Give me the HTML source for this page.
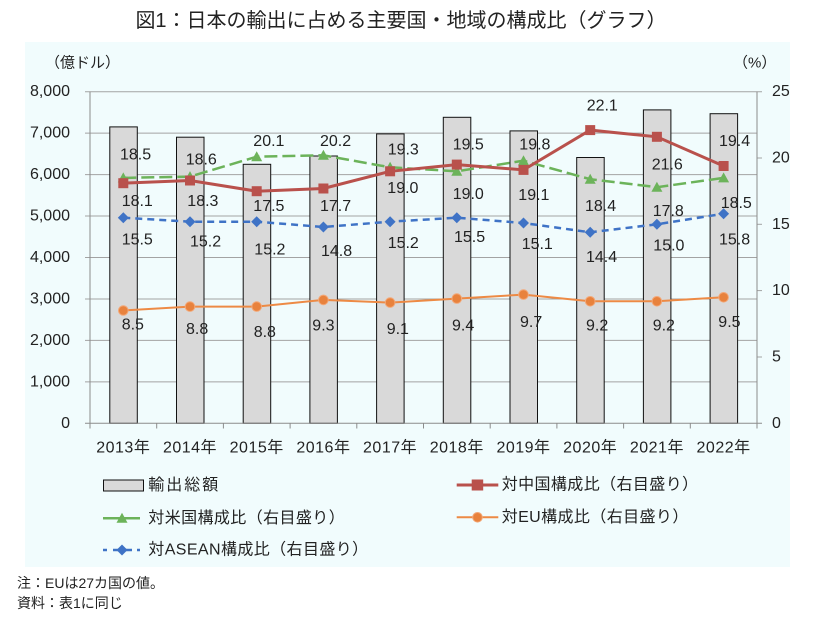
<!DOCTYPE html>
<html><head><meta charset="utf-8">
<style>
html,body{margin:0;padding:0;background:#fff;}
svg{display:block;}
text{font-family:"Liberation Sans","Noto Sans CJK JP",sans-serif;fill:#222;}
</style></head>
<body>
<svg width="830" height="624" viewBox="0 0 830 624" xmlns="http://www.w3.org/2000/svg">
<text x="401" y="21" font-size="20" text-anchor="middle" dominant-baseline="central" fill="#222">図1：日本の輸出に占める主要国・地域の構成比（グラフ）</text>
<rect x="25" y="42" width="765" height="525" fill="#f1fcfd"/>

<text x="45" y="63" font-size="15" dominant-baseline="central">（億ドル）</text>
<text x="733" y="63" font-size="15" dominant-baseline="central">（%）</text>

<!-- gridlines -->
<g stroke="#a3a3a3" stroke-width="1">
<line x1="85" y1="91.7" x2="762" y2="91.7"/>
<line x1="85" y1="133.15" x2="757" y2="133.15"/>
<line x1="85" y1="174.6" x2="757" y2="174.6"/>
<line x1="85" y1="216.05" x2="757" y2="216.05"/>
<line x1="85" y1="257.5" x2="757" y2="257.5"/>
<line x1="85" y1="298.95" x2="757" y2="298.95"/>
<line x1="85" y1="340.4" x2="757" y2="340.4"/>
<line x1="85" y1="381.85" x2="757" y2="381.85"/>
<line x1="757" y1="357" x2="762" y2="357"/>
<line x1="757" y1="290.6" x2="762" y2="290.6"/>
<line x1="757" y1="224.3" x2="762" y2="224.3"/>
<line x1="757" y1="158" x2="762" y2="158"/>
</g>

<!-- bars -->
<g fill="#d9d9d9" stroke="#111" stroke-width="1">
<rect x="109.8" y="126.9" width="27.5" height="296.4"/>
<rect x="176.5" y="137.2" width="27.5" height="286.1"/>
<rect x="243.2" y="164.3" width="27.5" height="259"/>
<rect x="309.9" y="156.0" width="27.5" height="267.3"/>
<rect x="376.6" y="133.9" width="27.5" height="289.4"/>
<rect x="443.3" y="117.3" width="27.5" height="306"/>
<rect x="510.0" y="130.9" width="27.5" height="292.4"/>
<rect x="576.7" y="157.5" width="27.5" height="265.8"/>
<rect x="643.4" y="109.9" width="27.5" height="313.4"/>
<rect x="710.1" y="113.7" width="27.5" height="309.6"/>
</g>

<!-- axes -->
<g stroke="#8c8c8c" stroke-width="1">
<line x1="90" y1="91.7" x2="90" y2="423.3"/>
<line x1="757" y1="91.7" x2="757" y2="423.3"/>
<line x1="85" y1="423.3" x2="762" y2="423.3"/>
<line x1="90" y1="423.3" x2="90" y2="428.5"/>
<line x1="156.7" y1="423.3" x2="156.7" y2="428.5"/>
<line x1="223.4" y1="423.3" x2="223.4" y2="428.5"/>
<line x1="290.1" y1="423.3" x2="290.1" y2="428.5"/>
<line x1="356.8" y1="423.3" x2="356.8" y2="428.5"/>
<line x1="423.5" y1="423.3" x2="423.5" y2="428.5"/>
<line x1="490.2" y1="423.3" x2="490.2" y2="428.5"/>
<line x1="556.9" y1="423.3" x2="556.9" y2="428.5"/>
<line x1="623.6" y1="423.3" x2="623.6" y2="428.5"/>
<line x1="690.3" y1="423.3" x2="690.3" y2="428.5"/>
<line x1="757" y1="423.3" x2="757" y2="428.5"/>
</g>

<!-- left axis labels -->
<g font-size="16" text-anchor="end" dominant-baseline="central">
<text x="70" y="91.7">8,000</text>
<text x="70" y="133.15">7,000</text>
<text x="70" y="174.6">6,000</text>
<text x="70" y="216.05">5,000</text>
<text x="70" y="257.5">4,000</text>
<text x="70" y="298.95">3,000</text>
<text x="70" y="340.4">2,000</text>
<text x="70" y="381.85">1,000</text>
<text x="70" y="423.3">0</text>
</g>
<!-- right axis labels -->
<g font-size="16" dominant-baseline="central">
<text x="772" y="91.7">25</text>
<text x="772" y="158">20</text>
<text x="772" y="224.3">15</text>
<text x="772" y="290.6">10</text>
<text x="772" y="357">5</text>
<text x="772" y="423.3">0</text>
</g>
<!-- category labels -->
<g font-size="16" text-anchor="middle" dominant-baseline="central" letter-spacing="0.5">
<text x="123.3" y="448">2013年</text>
<text x="190" y="448">2014年</text>
<text x="256.7" y="448">2015年</text>
<text x="323.4" y="448">2016年</text>
<text x="390.1" y="448">2017年</text>
<text x="456.8" y="448">2018年</text>
<text x="523.5" y="448">2019年</text>
<text x="590.2" y="448">2020年</text>
<text x="656.9" y="448">2021年</text>
<text x="723.6" y="448">2022年</text>
</g>

<!-- EU line -->
<polyline fill="none" stroke="#ed8a45" stroke-width="2" points="123.3,310.5 190,306.6 256.7,306.6 323.4,299.9 390.1,302.6 456.8,298.6 523.5,294.6 590.2,301.3 656.9,301.3 723.6,297.3"/>
<g fill="#e8823d" stroke="#f3a878" stroke-width="1">
<circle cx="123.3" cy="310.5" r="4.8"/><circle cx="190" cy="306.6" r="4.8"/><circle cx="256.7" cy="306.6" r="4.8"/><circle cx="323.4" cy="299.9" r="4.8"/><circle cx="390.1" cy="302.6" r="4.8"/><circle cx="456.8" cy="298.6" r="4.8"/><circle cx="523.5" cy="294.6" r="4.8"/><circle cx="590.2" cy="301.3" r="4.8"/><circle cx="656.9" cy="301.3" r="4.8"/><circle cx="723.6" cy="297.3" r="4.8"/>
</g>

<!-- ASEAN line -->
<polyline fill="none" stroke="#3f73c6" stroke-width="2.5" stroke-dasharray="7,5" points="123.3,217.7 190,221.7 256.7,221.7 323.4,227.0 390.1,221.7 456.8,217.7 523.5,223.0 590.2,232.3 656.9,224.3 723.6,213.7"/>
<g fill="#3f73c6">
<polygon points="123.3,212.2 128.8,217.7 123.3,223.2 117.8,217.7"/>
<polygon points="190,216.2 195.5,221.7 190,227.2 184.5,221.7"/>
<polygon points="256.7,216.2 262.2,221.7 256.7,227.2 251.2,221.7"/>
<polygon points="323.4,221.5 328.9,227 323.4,232.5 317.9,227"/>
<polygon points="390.1,216.2 395.6,221.7 390.1,227.2 384.6,221.7"/>
<polygon points="456.8,212.2 462.3,217.7 456.8,223.2 451.3,217.7"/>
<polygon points="523.5,217.5 529,223 523.5,228.5 518,223"/>
<polygon points="590.2,226.8 595.7,232.3 590.2,237.8 584.7,232.3"/>
<polygon points="656.9,218.8 662.4,224.3 656.9,229.8 651.4,224.3"/>
<polygon points="723.6,208.2 729.1,213.7 723.6,219.2 718.1,213.7"/>
</g>

<!-- US line -->
<polyline fill="none" stroke="#6cb35a" stroke-width="2.5" stroke-dasharray="13,5" points="123.3,177.9 190,176.6 256.7,156.7 323.4,155.3 390.1,167.3 456.8,171.3 523.5,160.7 590.2,179.2 656.9,187.2 723.6,177.9"/>
<g fill="#6cb35a">
<polygon points="123.3,172.4 128.8,182.4 117.8,182.4"/>
<polygon points="190,171.1 195.5,181.1 184.5,181.1"/>
<polygon points="256.7,151.2 262.2,161.2 251.2,161.2"/>
<polygon points="323.4,149.8 328.9,159.8 317.9,159.8"/>
<polygon points="390.1,161.8 395.6,171.8 384.6,171.8"/>
<polygon points="456.8,165.8 462.3,175.8 451.3,175.8"/>
<polygon points="523.5,155.2 529,165.2 518,165.2"/>
<polygon points="590.2,173.7 595.7,183.7 584.7,183.7"/>
<polygon points="656.9,181.7 662.4,191.7 651.4,191.7"/>
<polygon points="723.6,172.4 729.1,182.4 718.1,182.4"/>
</g>

<!-- China line -->
<polyline fill="none" stroke="#b9514c" stroke-width="3" points="123.3,183.2 190,180.5 256.7,191.2 323.4,188.5 390.1,171.3 456.8,164.6 523.5,169.9 590.2,130.1 656.9,136.8 723.6,166.0"/>
<g fill="#b9514c">
<rect x="118.3" y="178.2" width="10" height="10"/>
<rect x="185" y="175.5" width="10" height="10"/>
<rect x="251.7" y="186.2" width="10" height="10"/>
<rect x="318.4" y="183.5" width="10" height="10"/>
<rect x="385.1" y="166.3" width="10" height="10"/>
<rect x="451.8" y="159.6" width="10" height="10"/>
<rect x="518.5" y="164.9" width="10" height="10"/>
<rect x="585.2" y="125.1" width="10" height="10"/>
<rect x="651.9" y="131.8" width="10" height="10"/>
<rect x="718.6" y="161" width="10" height="10"/>
</g>

<!-- data labels -->
<g font-size="16" dominant-baseline="central">
<text x="120" y="155">18.5</text>
<text x="121.7" y="201.7">18.1</text>
<text x="121.7" y="240">15.5</text>
<text x="121.7" y="325">8.5</text>

<text x="185.7" y="160">18.6</text>
<text x="187.3" y="201.7">18.3</text>
<text x="190" y="242">15.2</text>
<text x="186" y="329.3">8.8</text>

<text x="253.3" y="141.7">20.1</text>
<text x="253.3" y="206.7">17.5</text>
<text x="254.3" y="250">15.2</text>
<text x="253.7" y="332.7">8.8</text>

<text x="320" y="141.7">20.2</text>
<text x="320" y="206.7">17.7</text>
<text x="321" y="251.7">14.8</text>
<text x="312.3" y="326">9.3</text>

<text x="387.7" y="150">19.3</text>
<text x="387.3" y="188.3">19.0</text>
<text x="387.7" y="243.3">15.2</text>
<text x="386.7" y="329.3">9.1</text>

<text x="452.7" y="145">19.5</text>
<text x="452.7" y="194.3">19.0</text>
<text x="454" y="237.3">15.5</text>
<text x="452" y="326">9.4</text>

<text x="519.3" y="145">19.8</text>
<text x="518.3" y="195.7">19.1</text>
<text x="521.7" y="244.3">15.1</text>
<text x="520" y="322.7">9.7</text>

<text x="586.7" y="106">22.1</text>
<text x="585" y="206.7">18.4</text>
<text x="586" y="257.3">14.4</text>
<text x="586" y="326">9.2</text>

<text x="651.7" y="165">21.6</text>
<text x="652.7" y="211.7">17.8</text>
<text x="653.3" y="246">15.0</text>
<text x="652.7" y="326">9.2</text>

<text x="719" y="141.7">19.4</text>
<text x="720.7" y="203.3">18.5</text>
<text x="719" y="240">15.8</text>
<text x="718.3" y="322.7">9.5</text>
</g>

<!-- legend -->
<rect x="103.5" y="480" width="40" height="11" fill="#d9d9d9" stroke="#111" stroke-width="1"/>
<text x="148.3" y="485.5" font-size="16" dominant-baseline="central" letter-spacing="2">輸出総額</text>

<line x1="103" y1="518.3" x2="140" y2="518.3" stroke="#6cb35a" stroke-width="2.5"/>
<polygon points="122,512.8 127.5,522.8 116.5,522.8" fill="#6cb35a"/>
<text x="148.3" y="518.3" font-size="16" dominant-baseline="central" letter-spacing="0.4">対米国構成比（右目盛り）</text>

<line x1="103" y1="550" x2="107" y2="550" stroke="#3f73c6" stroke-width="2.5"/>
<line x1="113" y1="550" x2="140" y2="550" stroke="#3f73c6" stroke-width="2.5" stroke-dasharray="7,5"/>
<polygon points="122,544.5 127.5,550 122,555.5 116.5,550" fill="#3f73c6"/>
<text x="148.3" y="550" font-size="16" dominant-baseline="central" letter-spacing="0.4">対ASEAN構成比（右目盛り）</text>

<line x1="456.7" y1="485" x2="498.3" y2="485" stroke="#b9514c" stroke-width="3"/>
<rect x="471.7" y="479.5" width="11.5" height="11" fill="#b9514c"/>
<text x="501.7" y="485" font-size="16" dominant-baseline="central" letter-spacing="0.4">対中国構成比（右目盛り）</text>

<line x1="456.7" y1="517.3" x2="498.3" y2="517.3" stroke="#ed8a45" stroke-width="2"/>
<circle cx="477.5" cy="517.3" r="4.8" fill="#e8823d" stroke="#f3a878" stroke-width="1"/>
<text x="501.7" y="517.3" font-size="16" dominant-baseline="central" letter-spacing="0.4">対EU構成比（右目盛り）</text>

<!-- notes -->
<text x="17" y="583" font-size="14" dominant-baseline="central" fill="#222">注：EUは27カ国の値。</text>
<text x="17" y="603" font-size="14" dominant-baseline="central" fill="#222">資料：表1に同じ</text>
</svg>
</body></html>
